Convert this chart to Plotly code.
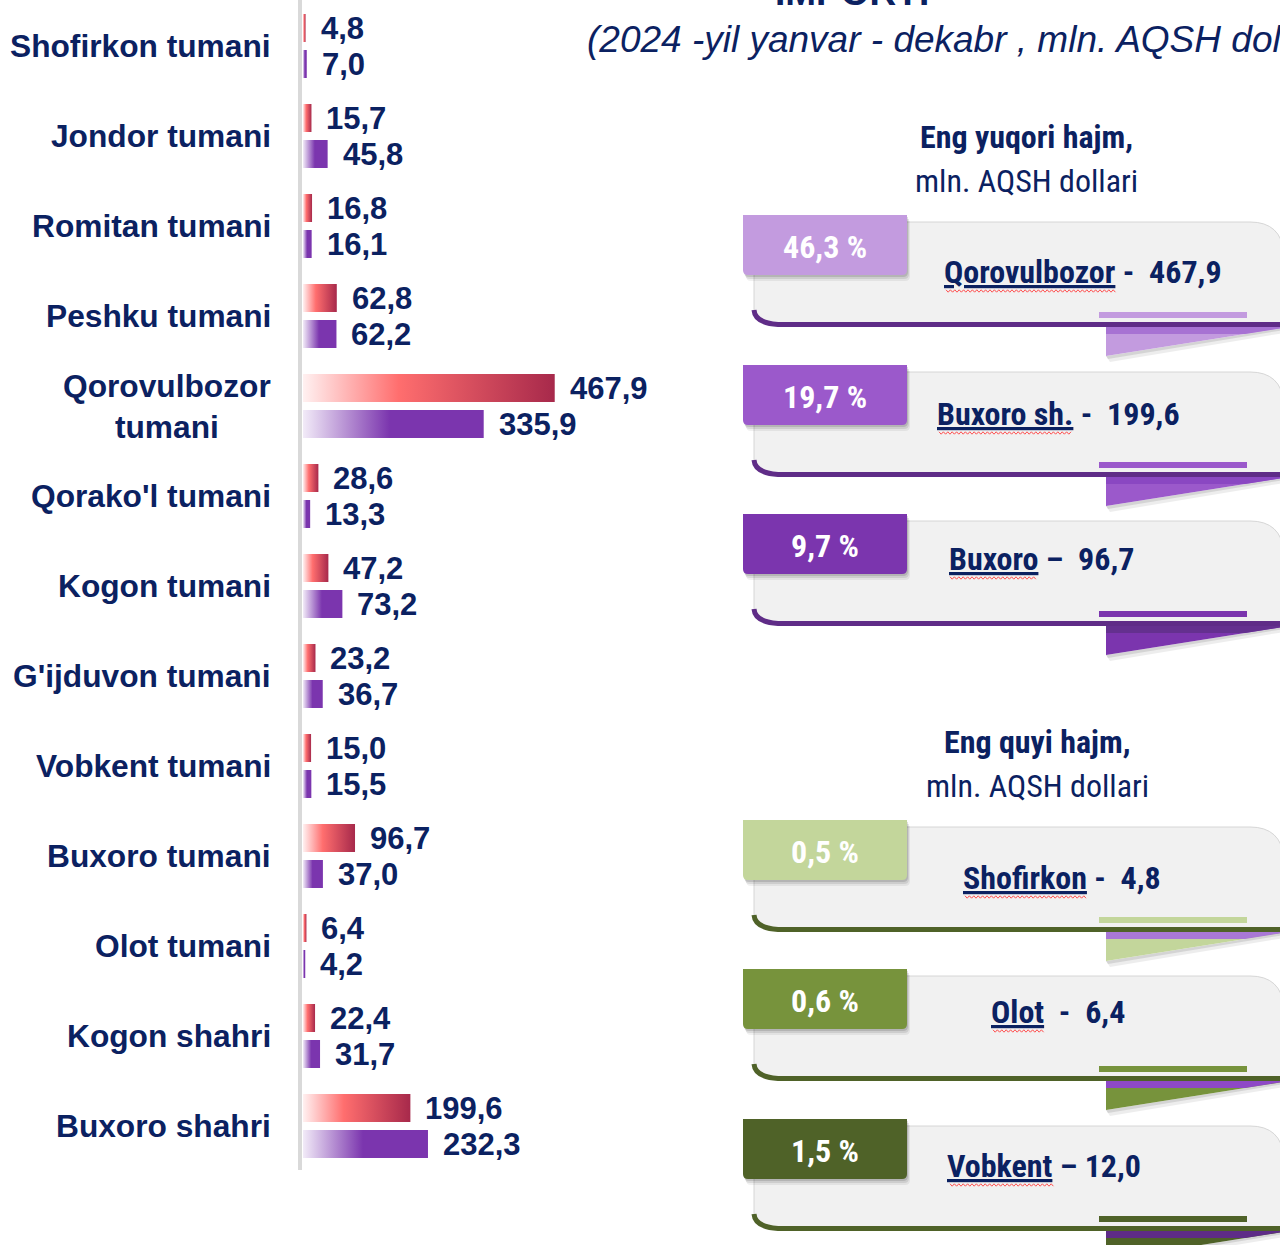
import plotly.graph_objects as go

W, H = 1280, 1245

# ---- data -------------------------------------------------------------
districts = [
    "Shofirkon tumani", "Jondor tumani", "Romitan tumani", "Peshku tumani",
    "Qorovulbozor<br>tumani", "Qorako'l tumani", "Kogon tumani",
    "G'ijduvon tumani", "Vobkent tumani", "Buxoro tumani", "Olot tumani",
    "Kogon shahri", "Buxoro shahri",
]
import_2024 = [4.8, 15.7, 16.8, 62.8, 467.9, 28.6, 47.2, 23.2, 15.0, 96.7, 6.4, 22.4, 199.6]
import_2023 = [7.0, 45.8, 16.1, 62.2, 335.9, 13.3, 73.2, 36.7, 15.5, 37.0, 4.2, 31.7, 232.3]

top_shares = ["46,3 %", "19,7 %", "9,7 %"]
top_names = ["Qorovulbozor", "Buxoro sh.", "Buxoro"]
top_dashes = [" -  ", " -  ", " –  "]
top_values = [467.9, 199.6, 96.7]

low_shares = ["0,5 %", "0,6 %", "1,5 %"]
low_names = ["Shofirkon", "Olot", "Vobkent"]
low_dashes = [" -  ", "  -  ", " – "]
low_values = [4.8, 6.4, 12.0]

title_text = "IMPORTI"
subtitle_text = "(2024 -yil yanvar - dekabr , mln. AQSH dollari)"
top_header = ["Eng yuqori hajm,", "mln. AQSH dollari"]
low_header = ["Eng quyi hajm,", "mln. AQSH dollari"]

# ---- style ------------------------------------------------------------
NAVY = "#0B2161"
FONT = "Liberation Sans, Arial, sans-serif"
NARROW = "Liberation Sans Narrow, Arial Narrow, Roboto Condensed, DejaVu Sans Condensed, Liberation Sans, sans-serif"

RED_SCALE = [[0, "#FFF1F1"], [0.38, "#FF6E6E"], [1, "#A7294B"]]
PURPLE_SCALE = [[0, "#F2EBF8"], [0.48, "#7B35AE"], [1, "#7B35AE"]]

top_colors = ["#C39BDF", "#9B59CB", "#7B35AE"]
top_bands = ["#A772D3", "#8A47C2", "#64308F"]
low_colors = ["#C3D69B", "#77933C", "#4F6228"]
low_bands = ["#A978D6", "#8E48C6", "#5E2C87"]
TOP_EDGE = "#5F2C87"
LOW_EDGE = "#4F6228"

# bar geometry (in axis units)
PX_PER_UNIT = 0.538
BAR_X0 = 303
BAR_X1 = 745
ROW = 90.0
FIRST_ROW = 46.0
OFFSET = 18 / ROW
HALF = 14 / ROW


def fmt(v):
    return f"{v:.1f}".replace(".", ",")


def px(x):
    return x / W


def py(y):
    return 1 - y / H


fig = go.Figure()

# ---- horizontal gradient bars -----------------------------------------
for i, (a, b) in enumerate(zip(import_2024, import_2023)):
    for val, yc, scale, name in ((a, i - OFFSET, RED_SCALE, "2024"),
                                 (b, i + OFFSET, PURPLE_SCALE, "2023")):
        fig.add_trace(go.Scatter(
            x=[0, val, val, 0, 0],
            y=[yc - HALF, yc - HALF, yc + HALF, yc + HALF, yc - HALF],
            mode="lines", fill="toself", line=dict(width=0),
            fillgradient=dict(type="horizontal", colorscale=scale),
            name=name, hoverinfo="text", text=f"{districts[i]}: {fmt(val)}",
            showlegend=False, xaxis="x", yaxis="y",
        ))

annotations = []
for i, (a, b) in enumerate(zip(import_2024, import_2023)):
    for val, yc in ((a, i - OFFSET), (b, i + OFFSET)):
        annotations.append(dict(
            x=val, y=yc, xref="x", yref="y", text=f"<b>{fmt(val)}</b>",
            showarrow=False, xanchor="left", yanchor="middle", xshift=13,
            font=dict(family=FONT, size=31, color=NAVY),
        ))
    annotations.append(dict(
        x=px(273), y=i, xref="paper", yref="y", text=f"<b>{districts[i]}</b>",
        showarrow=False, xanchor="right", yanchor="middle", align="center",
        font=dict(family=FONT, size=31.7, color=NAVY),
    ))

# invisible anchor trace for the full-canvas pixel axes
fig.add_trace(go.Scatter(x=[0], y=[0], mode="markers", marker=dict(opacity=0),
                         hoverinfo="skip", showlegend=False, xaxis="x2", yaxis="y2"))

shapes = []


def add_path(path, fill=None, line_color=None, line_width=0):
    shapes.append(dict(
        type="path", path=path, xref="x2", yref="y2",
        fillcolor=fill if fill else "rgba(0,0,0,0)",
        line=dict(color=line_color if line_color else "rgba(0,0,0,0)", width=line_width),
    ))


def squiggle(x0, x1, y):
    pts = []
    x, up = x0, True
    while x <= x1:
        pts.append(f"{x},{y - 1.2 if up else y + 1.2}")
        x += 2.2
        up = not up
    add_path("M " + " L ".join(pts), line_color="#FF4D4D", line_width=1)


# axis rule on the left of the bars
shapes.append(dict(type="line", xref="x2", yref="y2", x0=300, x1=300, y0=0, y1=1170,
                   line=dict(color="#D9D9D9", width=4)))


def card(T, color, band, edge, share, name, dash, val, tx, ty, sq):
    # body
    add_path(f"M 754,{T+7} L 1250,{T+7} Q 1281,{T+7} 1284,{T+38} L 1300,{T+38} "
             f"L 1300,{T+108} L 772,{T+108} Q 754,{T+106} 754,{T+94} Z",
             fill="#F1F1F1", line_color="#D6D6D6", line_width=1)
    # dark lower edge
    add_path(f"M 754,{T+95} Q 755,{T+108} 778,{T+109.5} L 1300,{T+109.5}",
             line_color=edge, line_width=5)
    # accent stripe
    shapes.append(dict(type="line", xref="x2", yref="y2", x0=1099, x1=1247,
                       y0=T + 100, y1=T + 100, line=dict(color=color, width=6)))
    # ribbon fold with its shadow
    add_path(f"M 1106,{T+141} L 1290,{T+112} L 1290,{T+117} L 1110,{T+147} Z",
             fill="rgba(0,0,0,0.07)")
    add_path(f"M 1106,{T+141} L 1290,{T+112} L 1290,{T+114} L 1108,{T+144} Z",
             fill="rgba(0,0,0,0.10)")
    add_path(f"M 1106,{T+112} L 1290,{T+112} L 1106,{T+141} Z", fill=color)
    add_path(f"M 1106,{T+112} L 1290,{T+112} L 1245,{T+119} L 1106,{T+119} Z", fill=band)
    # tab with soft shadow
    for dx, dy, a in ((3, 6, 0.06), (2, 4, 0.09), (1, 2, 0.12)):
        add_path(f"M {743+dx},{T+dy} L {907+dx},{T+dy} L {907+dx},{T+55+dy} "
                 f"Q {907+dx},{T+60+dy} {902+dx},{T+60+dy} L {748+dx},{T+60+dy} "
                 f"Q {743+dx},{T+60+dy} {743+dx},{T+55+dy} Z", fill=f"rgba(0,0,0,{a})")
    add_path(f"M 743,{T} L 907,{T} L 907,{T+55} Q 907,{T+60} 902,{T+60} "
             f"L 748,{T+60} Q 743,{T+60} 743,{T+55} Z", fill=color)
    # proofing squiggle under the place name
    squiggle(sq[0], sq[1], T + ty + 19)

    annotations.append(dict(
        x=px(825), y=py(T + 32), xref="paper", yref="paper", text=f"<b>{share}</b>",
        showarrow=False, xanchor="center", yanchor="middle",
        font=dict(family=NARROW, size=32, color="white"),
    ))
    annotations.append(dict(
        x=px(tx), y=py(T + ty), xref="paper", yref="paper",
        text=(f"<b><span style='text-decoration:underline'>{name}</span>"
              f"{dash}{fmt(val)}</b>"),
        showarrow=False, xanchor="center", yanchor="middle",
        font=dict(family=NARROW, size=32, color=NAVY),
    ))


top_tabs = [215, 365, 514]
top_text_pos = [(1083, 57), (1058, 49), (1041, 45)]
top_squiggles = [(946, 1117), (939, 1073), (950, 1038)]
for k in range(3):
    card(top_tabs[k], top_colors[k], top_bands[k], TOP_EDGE, top_shares[k],
         top_names[k], top_dashes[k], top_values[k], *top_text_pos[k], top_squiggles[k])

low_tabs = [820, 969, 1119]
low_text_pos = [(1062, 58), (1058, 43), (1044, 47)]
low_squiggles = [(965, 1088), (993, 1045), (950, 1054)]
for k in range(3):
    card(low_tabs[k], low_colors[k], low_bands[k], LOW_EDGE, low_shares[k],
         low_names[k], low_dashes[k], low_values[k], *low_text_pos[k], low_squiggles[k])

# ---- headings ---------------------------------------------------------
annotations.append(dict(x=px(852), y=py(-7), xref="paper", yref="paper",
                        text=f"<b>{title_text}</b>", showarrow=False,
                        xanchor="center", yanchor="middle",
                        font=dict(family=FONT, size=37, color=NAVY)))
annotations.append(dict(x=px(585), y=py(40), xref="paper", yref="paper",
                        text=f"<i>{subtitle_text}</i>", showarrow=False,
                        xanchor="left", yanchor="middle",
                        font=dict(family=FONT, size=37, color=NAVY)))

for head, cx, y1, y2 in ((top_header, 1026, 137, 181), (low_header, 1037, 742, 786)):
    annotations.append(dict(x=px(cx), y=py(y1), xref="paper", yref="paper",
                            text=f"<b>{head[0]}</b>", showarrow=False,
                            xanchor="center", yanchor="middle",
                            font=dict(family=NARROW, size=32, color=NAVY)))
    annotations.append(dict(x=px(cx), y=py(y2), xref="paper", yref="paper",
                            text=head[1], showarrow=False,
                            xanchor="center", yanchor="middle",
                            font=dict(family=NARROW, size=32, color=NAVY)))

fig.update_layout(
    width=W, height=H,
    margin=dict(l=0, r=0, t=0, b=0),
    paper_bgcolor="white", plot_bgcolor="rgba(0,0,0,0)",
    showlegend=False,
    xaxis=dict(domain=[BAR_X0 / W, BAR_X1 / W],
               range=[0, (BAR_X1 - BAR_X0) / PX_PER_UNIT],
               visible=False, fixedrange=True),
    yaxis=dict(domain=[0, 1], range=[(H - FIRST_ROW) / ROW, -FIRST_ROW / ROW],
               visible=False, fixedrange=True),
    xaxis2=dict(domain=[0, 1], range=[0, W], visible=False, anchor="y2",
                fixedrange=True),
    yaxis2=dict(domain=[0, 1], range=[H, 0], visible=False, anchor="x2",
                fixedrange=True),
    shapes=shapes,
    annotations=annotations,
)

fig.write_html("out.html")
